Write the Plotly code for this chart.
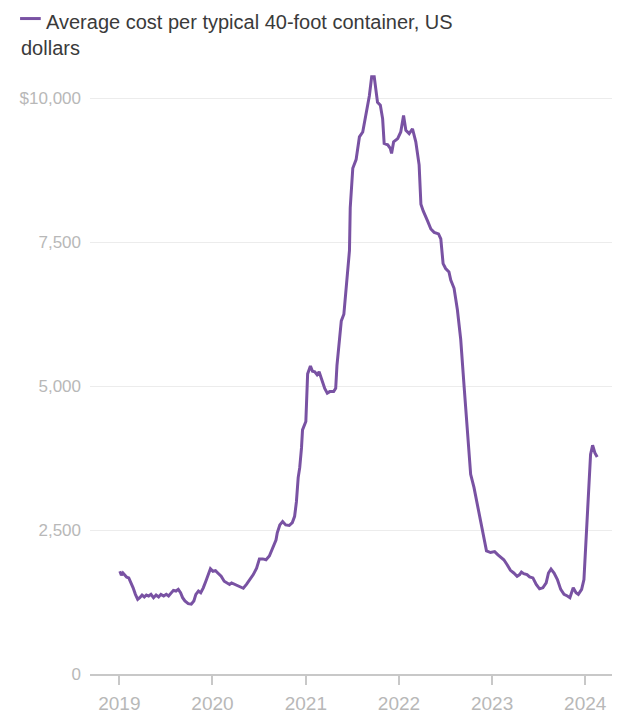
import plotly.graph_objects as go

# Weekly-ish average cost per 40-foot container (USD)
dates = [
    "2019-01-03", "2019-01-09", "2019-01-15", "2019-01-22", "2019-01-30", "2019-02-07",
    "2019-02-16", "2019-02-24", "2019-03-05", "2019-03-14", "2019-03-22", "2019-03-31",
    "2019-04-09", "2019-04-17", "2019-04-26", "2019-05-05", "2019-05-15", "2019-05-25",
    "2019-06-04", "2019-06-13", "2019-06-24", "2019-07-04", "2019-07-13", "2019-07-22",
    "2019-08-01", "2019-08-11", "2019-08-20", "2019-08-29", "2019-09-06", "2019-09-15",
    "2019-09-28", "2019-10-10", "2019-10-20", "2019-10-28", "2019-11-07", "2019-11-16",
    "2019-11-26", "2019-12-06", "2019-12-15", "2019-12-24",
    "2020-01-03", "2020-01-13", "2020-01-22", "2020-02-04", "2020-02-16", "2020-03-08",
    "2020-03-16", "2020-03-29", "2020-04-15", "2020-05-01", "2020-05-14", "2020-05-27",
    "2020-06-09", "2020-06-22", "2020-07-03", "2020-07-16", "2020-07-29", "2020-08-11",
    "2020-08-24", "2020-09-06", "2020-09-11", "2020-09-21", "2020-10-02", "2020-10-14",
    "2020-10-28", "2020-11-09", "2020-11-18", "2020-11-25", "2020-12-02", "2020-12-08",
    "2020-12-15", "2020-12-19",
    "2021-01-01", "2021-01-08", "2021-01-19", "2021-01-27", "2021-02-05", "2021-02-14",
    "2021-02-22", "2021-03-03", "2021-03-16", "2021-03-26", "2021-04-05", "2021-04-20",
    "2021-04-28", "2021-05-03", "2021-05-13", "2021-05-20", "2021-05-30", "2021-06-08",
    "2021-06-15", "2021-06-21", "2021-06-24", "2021-07-04", "2021-07-17", "2021-07-30",
    "2021-08-12", "2021-08-25", "2021-09-07", "2021-09-16", "2021-09-26", "2021-10-09",
    "2021-10-20", "2021-10-29", "2021-11-04", "2021-11-18", "2021-11-28", "2021-12-03",
    "2021-12-11", "2021-12-27",
    "2022-01-08", "2022-01-19", "2022-01-28", "2022-02-10", "2022-02-23", "2022-03-08",
    "2022-03-21", "2022-03-28", "2022-04-06", "2022-04-23", "2022-05-06", "2022-05-19",
    "2022-06-05", "2022-06-14", "2022-06-23", "2022-07-03", "2022-07-16", "2022-07-23",
    "2022-08-05", "2022-08-18", "2022-08-31", "2022-09-13", "2022-09-26", "2022-10-09",
    "2022-10-22", "2022-11-04", "2022-11-17", "2022-11-30", "2022-12-10", "2022-12-26",
    "2023-01-11", "2023-01-24", "2023-02-03", "2023-02-16", "2023-03-01", "2023-03-14",
    "2023-03-27", "2023-04-09", "2023-04-19", "2023-04-26", "2023-05-05", "2023-05-18",
    "2023-05-28", "2023-06-10", "2023-06-23", "2023-07-06", "2023-07-19", "2023-08-01",
    "2023-08-10", "2023-08-20", "2023-09-01", "2023-09-14", "2023-09-27", "2023-10-10",
    "2023-10-23", "2023-11-02", "2023-11-15", "2023-11-26", "2023-12-05", "2023-12-18",
    "2023-12-27",
    "2024-01-04", "2024-01-13", "2024-01-22", "2024-01-30", "2024-02-08", "2024-02-17",
]

costs = [
    1784, 1715, 1755, 1727, 1681, 1669,
    1583, 1497, 1384, 1298, 1326, 1372,
    1338, 1372, 1355, 1384, 1326, 1372,
    1338, 1384, 1355, 1384, 1355, 1394,
    1453, 1441, 1470, 1412, 1326, 1269,
    1223, 1213, 1269, 1384, 1441, 1412,
    1497, 1612, 1727, 1830,
    1784, 1796, 1755, 1698, 1612, 1556,
    1583, 1556, 1530, 1490, 1560, 1640,
    1727, 1840, 2000, 2000, 1985, 2050,
    2180, 2328, 2453, 2590, 2650, 2590,
    2580, 2630, 2740, 2990, 3413, 3585,
    3928, 4242,
    4386, 5214, 5352, 5260, 5250, 5200,
    5250, 5120, 4960, 4880, 4906, 4906,
    4963, 5363, 5878, 6135, 6250, 6672,
    6958, 7358, 8100, 8787, 8937, 9331,
    9417, 9760, 10046, 10377, 10377, 9931,
    9880, 9645, 9216, 9194, 9130, 9045,
    9245, 9302,
    9417, 9703, 9446, 9388, 9473, 9245,
    8846, 8160, 8045, 7873, 7731, 7672,
    7645, 7559, 7130, 7045, 6986, 6844,
    6701, 6329, 5815, 5014, 4214, 3470,
    3242, 2955, 2612, 2328, 2140, 2110,
    2127, 2070, 2029, 1985, 1899, 1801,
    1755, 1698, 1727, 1772, 1744, 1727,
    1686, 1669, 1556, 1480, 1497, 1583,
    1755, 1823, 1755, 1642, 1470, 1384,
    1355, 1326, 1497, 1412, 1384, 1470,
    1642,
    2269, 3127, 3813, 3974, 3842, 3769,
]

series_name = "Average cost per typical 40-foot container, US dollars"
y_tick_vals = [0, 2500, 5000, 7500, 10000]
y_tick_text = ["0", "2,500", "5,000", "7,500", "$10,000"]
x_tick_vals = ["2019-01-01", "2020-01-01", "2021-01-01", "2022-01-01", "2023-01-01", "2024-01-01"]
x_tick_text = ["2019", "2020", "2021", "2022", "2023", "2024"]

LINE = "#7952a3"
TICK_GRAY = "#b8b8b8"
AXIS_GRAY = "#c8c8c8"
FONT = "Liberation Sans, Arial, sans-serif"

fig = go.Figure()
fig.add_trace(go.Scatter(
    x=dates, y=costs, mode="lines", name=series_name,
    line=dict(color=LINE, width=3, shape="linear"),
    showlegend=False,
))

# The page body keeps an 8px default margin, so the figure is sized to fit the window.
W, H = 619, 718
ml, mr, mt, mb = 74, 15, 53, 44
pw, ph = W - ml - mr, H - mt - mb

def px_x(px):
    return (px - ml) / pw

def px_y(py):
    return (H - mb - py) / ph

fig.update_layout(
    width=W, height=H,
    margin=dict(l=ml, r=mr, t=mt, b=mb, pad=0),
    paper_bgcolor="white", plot_bgcolor="white",
    font=dict(family=FONT, color=TICK_GRAY),
    xaxis=dict(
        type="date",
        range=["2018-09-08", "2024-04-15"],
        tickvals=x_tick_vals, ticktext=x_tick_text,
        showgrid=False, zeroline=False,
        showline=True, linecolor=AXIS_GRAY, linewidth=1.5,
        ticks="outside", ticklen=9, tickwidth=1.5, tickcolor=AXIS_GRAY,
        ticklabelstandoff=2,
        tickfont=dict(size=19, color=TICK_GRAY, family=FONT),
    ),
    yaxis=dict(
        range=[0, 10650],
        tickvals=y_tick_vals, ticktext=y_tick_text,
        showgrid=True, gridcolor="#ececec", gridwidth=1,
        zeroline=False, showline=False, ticks="",
        ticklabelstandoff=8,
        tickfont=dict(size=17, color=TICK_GRAY, family=FONT),
    ),
    shapes=[dict(
        type="line", xref="paper", yref="paper",
        x0=px_x(3), x1=px_x(24), y0=px_y(10), y1=px_y(10),
        line=dict(color=LINE, width=3),
    )],
    annotations=[
        dict(text="Average cost per typical 40-foot container, US",
             xref="paper", yref="paper", x=px_x(27), y=px_y(13),
             xanchor="left", yanchor="middle", showarrow=False,
             font=dict(size=20, color="#3a3a3a", family=FONT)),
        dict(text="dollars",
             xref="paper", yref="paper", x=px_x(2), y=px_y(40),
             xanchor="left", yanchor="middle", showarrow=False,
             font=dict(size=20, color="#3a3a3a", family=FONT)),
    ],
)

fig.write_html("out.html")
